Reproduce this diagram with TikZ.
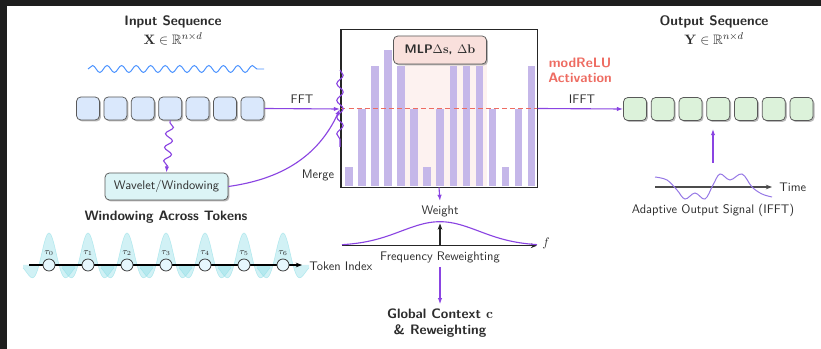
\documentclass[tikz,border=0pt]{standalone}
\usepackage{amsmath,amssymb}
\usetikzlibrary{arrows.meta,decorations.pathmorphing,shadows,calc}

\definecolor{purp}{RGB}{138,68,226}
\definecolor{sigpurp}{RGB}{150,120,230}
\definecolor{barc}{RGB}{197,183,233}
\definecolor{inblue}{RGB}{218,232,252}
\definecolor{outgreen}{RGB}{220,242,218}
\definecolor{wavcyan}{RGB}{220,244,246}
\definecolor{mlppink}{RGB}{249,224,220}
\definecolor{pinkbg}{RGB}{253,242,240}
\definecolor{salmon}{RGB}{238,108,98}
\definecolor{wblue}{RGB}{77,148,255}
\definecolor{framec}{RGB}{30,30,30}
\definecolor{txt}{RGB}{45,45,45}
\definecolor{wincy}{RGB}{140,222,230}

\def\pxu{0.805pt}

\tikzset{
  shad/.style={drop shadow={shadow xshift=1.2pt, shadow yshift=-1.2pt, fill=black!50, opacity=.55}},
  tokbox/.style={draw=black!65, line width=0.6pt, rounded corners=3.5pt,
    minimum width=23*\pxu, minimum height=23*\pxu, inner sep=0pt, shad},
  inbox/.style={tokbox, fill=inblue},
  outbox/.style={tokbox, fill=outgreen},
  procbox/.style={draw=black!65, line width=0.6pt, rounded corners=3.5pt, shad},
  flow/.style={purp, line width=0.9pt},
  title/.style={font=\fontsize{11}{13}\selectfont\sffamily\bfseries, text=txt},
  mathlbl/.style={font=\fontsize{11}{13}\selectfont, text=txt},
  lbl/.style={font=\sffamily, text=txt},
  tokdot/.style={circle, draw=black!80, fill=white!90!cyan, line width=0.6pt,
    minimum size=12*\pxu, inner sep=0pt},
  bar/.style={fill=barc},
}

\begin{document}
\begin{tikzpicture}[x=0.805pt, y=-0.805pt, >={Latex[length=5pt,width=3.5pt]}]
\useasboundingbox (0,0) rectangle (821,349);
\fill[framec] (0,0) rectangle (821,349);
\fill[white] (7,6) rectangle (821,349);

% ---------------- input side ----------------
\node[title] (intitle) at (173,22) {Input Sequence};
\node[mathlbl] (inmath) at (173,39) {$\mathbf{X}\in\mathbb{R}^{n\times d}$};
\draw[wblue, line width=0.8pt, decorate,
      decoration={snake, segment length=11.7pt, amplitude=2.8pt, post length=4pt}]
      (88,69) -- (264,69);

\foreach \k in {0,...,6}
  \node[inbox] (in\k) at ({88+27.4*\k},108.5) {};

\node[procbox, fill=wavcyan, minimum width=123*\pxu, minimum height=27*\pxu, lbl]
  (wav) at (166.5,186.5) {Wavelet/Windowing};

\draw[flow, ->, decorate,
      decoration={snake, segment length=11pt, amplitude=3pt, pre length=2pt, post length=4pt}]
      (in3.south) -- (wav.north);

% ---------------- spectrum panel ----------------
\node[draw=black!85, fill=white, line width=0.8pt, minimum width=196*\pxu,
      minimum height=157*\pxu, inner sep=0pt] (spec) at (439,108.5) {};
\fill[pinkbg] (405,50) rectangle (487,186.5);
\foreach \h [count=\i from 0] in {167,109,66,50,66,109,167,109,66,66,66,109,167,109,66}
  \fill[bar] ({345+13.07*\i},\h) rectangle ({352.5+13.07*\i},186.5);
\draw[salmon, line width=0.8pt, dash pattern=on 4pt off 2.5pt]
  (spec.west) -- (spec.east);
\draw[black!85, line width=0.8pt] (spec.south west) rectangle (spec.north east);

\node[procbox, fill=mlppink, minimum width=93*\pxu, minimum height=28*\pxu, text=txt]
  (mlp) at (440,50) {\sffamily\bfseries MLP$\Delta\mathbf{s}$, $\Delta\mathbf{b}$};

\coordinate (merge) at (340,109);
\draw[flow, decorate, decoration={snake, segment length=13.5pt, amplitude=2.6pt}]
  (340,70) -- (340,147);
\draw[flow, ->] (in6.east) -- (merge);
\node[lbl] (fft) at (302,99) {FFT};
\draw[flow, ->] (wav.east) to[out=8, in=245] (merge);
\node[lbl] (mergelbl) at (318,175) {Merge};

\node[font=\fontsize{11}{13}\selectfont\sffamily\bfseries, text=salmon, align=center, inner sep=0pt]
  (act) at (580,70) {modReLU\\[-1pt]Activation};

% ---------------- output side ----------------
\node[title] (outtitle) at (714,22) {Output Sequence};
\node[mathlbl] (outmath) at (714,39) {$\mathbf{Y}\in\mathbb{R}^{n\times d}$};
\foreach \k in {0,...,6}
  \node[outbox] (out\k) at ({635+27.75*\k},109) {};
\draw[flow, ->] (spec.east) -- (out0.west);
\node[lbl] (ifft) at (582,99) {IFFT};

\coordinate (sigtop) at (713,163);
\coordinate (sigend) at (713,129);
\draw[flow, ->] (sigtop) -- (sigend);
\coordinate (tstart) at (655,187);
\coordinate (tend) at (772,187);
\draw[black!70, line width=1pt, -{Stealth[length=5pt]}] (tstart) -- (tend);
\node[lbl, anchor=west] (time) at (775,187) {Time};
\draw[sigpurp, line width=0.8pt] plot[smooth, tension=0.6] coordinates
  {(655,177) (667,180) (677,190) (685,199) (695,193) (705,199) (713,185)
   (720,174) (730,180) (742,174) (752,187) (762,194) (772,197)};
\node[lbl] (adapt) at (713,210) {Adaptive Output Signal (IFFT)};

% ---------------- frequency reweighting ----------------
\node[lbl] (weight) at (440,211) {Weight};
\draw[flow, ->] (spec.south) -- (weight.north);
\coordinate (fa) at (342,245.7);
\coordinate (fb) at (537,245.7);
\draw[black!85, line width=1pt, -{Stealth[length=5pt]}] (fa) -- (fb);
\node[text=txt] (flab) at (546,243) {$f$};
\draw[purp, line width=0.9pt] plot[domain=342:537, samples=80]
  (\x, {245.7-24*exp(-((\x-440)/55)^2)});
\coordinate (fbase) at (440,245.7);
\coordinate (fpeak) at (440,223.5);
\draw[black!85, line width=0.9pt, -{Stealth[length=5pt]}] (fbase) -- (fpeak);
\node[lbl] (frw) at (440,257) {Frequency Reweighting};
\node[title, align=center] (glob) at (440,323)
  {Global Context $\mathbf{c}$\\\& Reweighting};
\draw[flow, ->] (frw.south) -- (glob.north);

% ---------------- windowing across tokens ----------------
\node[title] (wintitle) at (166,217) {Windowing Across Tokens};
\foreach \k in {0,...,6} {
  \pgfmathsetmacro\cx{49+39*\k}
  \fill[wincy, fill opacity=.4] ({\cx-26},265) -- plot[domain={\cx-26}:{\cx+26}, samples=40]
    (\x, {265-32*cos(360*(\x-\cx)/40)*exp(-((\x-\cx)/19)^2)}) -- ({\cx+26},265) -- cycle;
  \draw[wincy, opacity=.6, line width=0.4pt] plot[domain={\cx-26}:{\cx+26}, samples=40]
    (\x, {265-32*cos(360*(\x-\cx)/40)*exp(-((\x-\cx)/19)^2)});
}
\coordinate (ta) at (29,265);
\coordinate (tb) at (302,265);
\draw[black, line width=0.9pt, -{Stealth[length=5pt]}] (ta) -- (tb);
\foreach \k in {0,...,6} {
  \node[tokdot] (tok\k) at ({49+39*\k},265) {};
  \node[text=txt, font=\scriptsize, inner sep=0pt] (tl\k) at ({49+39*\k},253.5) {$\tau_{\k}$};
}
\node[lbl, anchor=west] (tokidx) at (305,266) {Token Index};
\end{tikzpicture}
\end{document}
